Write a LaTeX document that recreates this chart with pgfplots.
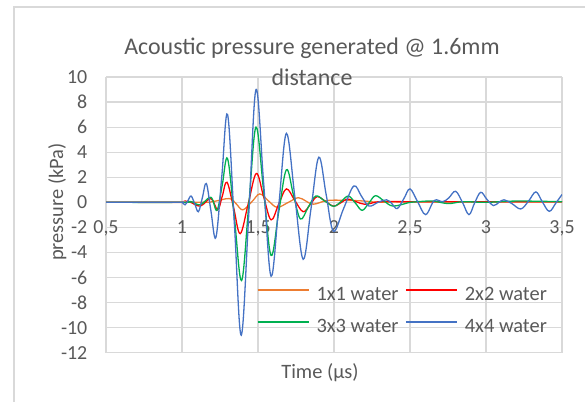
\documentclass[border=0pt]{standalone}
\usepackage{pgfplots}
\pgfplotsset{compat=1.18}
\usepackage{fontspec}
\setmainfont{Carlito}
\definecolor{txt}{HTML}{595959}
\definecolor{gridc}{HTML}{D9D9D9}
\definecolor{c1}{HTML}{ED7D31}
\definecolor{c2}{HTML}{FF0000}
\definecolor{c3}{HTML}{00B050}
\definecolor{c4}{HTML}{4472C4}

\begin{document}
\begin{tikzpicture}
\useasboundingbox (0,0) rectangle (585bp,402bp);
% chart frame (only top and left are inside the crop)
\draw[gridc, line width=1.3bp] (14bp,-5bp) -- (14bp,395bp) -- (600bp,395bp);

\begin{axis}[
    at={(106bp,49.3bp)}, anchor=south west,
    scale only axis,
    width=456bp, height=275.7bp,
    xmin=0.5, xmax=3.5, ymin=-12, ymax=10,
    xtick={0.5,1,...,3.5},
    ytick={-12,-10,...,10},
    grid=major,
    grid style={gridc, line width=1.2bp},
    axis line style={draw=none},
    tick style={draw=none},
    major tick length=0pt,
    /pgf/number format/assume math mode=true,
    /pgf/number format/use comma,
    ticklabel style={font=\fontsize{20}{24}\selectfont, text=txt, inner sep=0pt},
    yticklabel style={anchor=east, xshift=-18.5bp},
    xticklabel style={anchor=base, yshift=118.7bp},
    legend columns=2,
    legend cell align=left,
    legend style={at={(0.3305,0.2425)}, anchor=north west, draw=none, fill=none,
        inner sep=0pt,
        font=\fontsize{20.5}{24}\selectfont,
        nodes={inner sep=0pt, text height=14bp, text depth=4bp, text=txt},
        row sep=14bp, column sep=6.7bp},
    legend image code/.code={\draw[#1] (0bp,5bp) -- (51.6bp,5bp);},
    every axis plot/.append style={line width=1.3bp, smooth, tension=0.6},
]
% 1x1 water
\addplot[c1] coordinates {
(0.5,0) (1.1,0) (1.2,0.05) (1.31,0.3) (1.355,-0.1) (1.40,-0.6) (1.46,0.05)
(1.512,0.67) (1.57,0.1) (1.627,-0.4) (1.70,0) (1.765,0.37) (1.815,0.1)
(1.866,-0.15) (1.96,0.15) (2.1,0.15) (2.2,0.1) (2.3,0) (2.5,0.03) (3.5,0.03)};
% 2x2 water
\addplot[c2] coordinates {
(0.5,0) (1.0,0) (1.05,0.03) (1.12,-0.3) (1.19,0.3) (1.235,-0.6) (1.265,0.5)
(1.296,1.6) (1.34,-0.45) (1.383,-2.5) (1.436,-0.1) (1.489,2.3) (1.537,0.45)
(1.586,-1.4) (1.636,-0.15) (1.687,1.07) (1.742,0.15) (1.797,-0.75) (1.845,-0.15)
(1.889,0.45) (1.945,0.07) (1.998,-0.3) (2.05,0) (2.097,0.25) (2.2,-0.15)
(2.3,0.05) (2.5,0.05) (3.0,0.05) (3.5,0.05)};
% 3x3 water
\addplot[c3] coordinates {
(0.5,0) (1.0,0) (1.06,0.05) (1.12,-0.2) (1.19,0.4) (1.23,-0.64) (1.265,1.4)
(1.30,3.47) (1.346,-1.4) (1.392,-6.24) (1.44,-0.1) (1.487,6.0) (1.537,0.9)
(1.586,-4.24) (1.636,-0.8) (1.687,2.6) (1.733,0.6) (1.779,-1.33) (1.83,-0.4)
(1.88,0.5) (1.94,0.1) (1.998,-0.32) (2.05,0.1) (2.095,0.5) (2.14,-0.05)
(2.185,-0.64) (2.23,-0.05) (2.273,0.53) (2.33,0.1) (2.39,-0.3) (2.5,0)
(2.55,0.05) (2.65,0.1) (2.75,-0.1) (2.85,0.05) (3.0,0) (3.2,0.1) (3.5,0.05)};
% 4x4 water
\addplot[c4] coordinates {
(0.5,0) (0.97,0) (1.0,0) (1.02,-0.2) (1.04,0.15) (1.06,0.5) (1.084,-0.12)
(1.108,-0.75) (1.134,0.37) (1.16,1.5) (1.19,-0.65) (1.223,-2.8) (1.262,2.1)
(1.30,7.0) (1.345,-1.8) (1.39,-10.6) (1.44,-0.8) (1.487,9.0) (1.537,1.55)
(1.586,-5.9) (1.637,-0.2) (1.687,5.5) (1.742,0.48) (1.797,-4.55) (1.849,-0.48)
(1.90,3.6) (1.948,0.65) (1.996,-2.3) (2.063,-0.5) (2.13,1.3) (2.18,0.5)
(2.229,-0.3) (2.29,0) (2.346,0.2) (2.38,-0.1) (2.416,-0.5) (2.46,0.3)
(2.50,1.07) (2.55,0.05) (2.603,-0.98) (2.66,0.15) (2.715,0.05) (2.755,0.35)
(2.80,0.88) (2.845,0) (2.888,-0.98) (2.925,-0.05) (2.965,0.8) (3.005,0.25)
(3.049,-0.26) (3.085,0) (3.119,0.2) (3.17,-0.1) (3.229,-0.53) (3.28,0.1)
(3.328,0.83) (3.37,0.05) (3.416,-0.72) (3.46,-0.05) (3.50,0.62)};
\legend{1x1 water, 2x2 water, 3x3 water, 4x4 water}
\end{axis}

\node[anchor=base, text=txt, font=\fontsize{24}{28}\selectfont] at (312bp,347bp) {Acoustic pressure generated @ 1.6mm};
\node[anchor=base, text=txt, font=\fontsize{24}{28}\selectfont] at (312bp,316bp) {distance};
\node[anchor=base, text=txt, font=\fontsize{20.5}{24}\selectfont] at (320bp,24bp) {Time (µs)};
\node[anchor=base, rotate=90, text=txt, font=\fontsize{20.5}{24}\selectfont] at (63bp,200bp) {pressure (kPa)};
\end{tikzpicture}
\end{document}
